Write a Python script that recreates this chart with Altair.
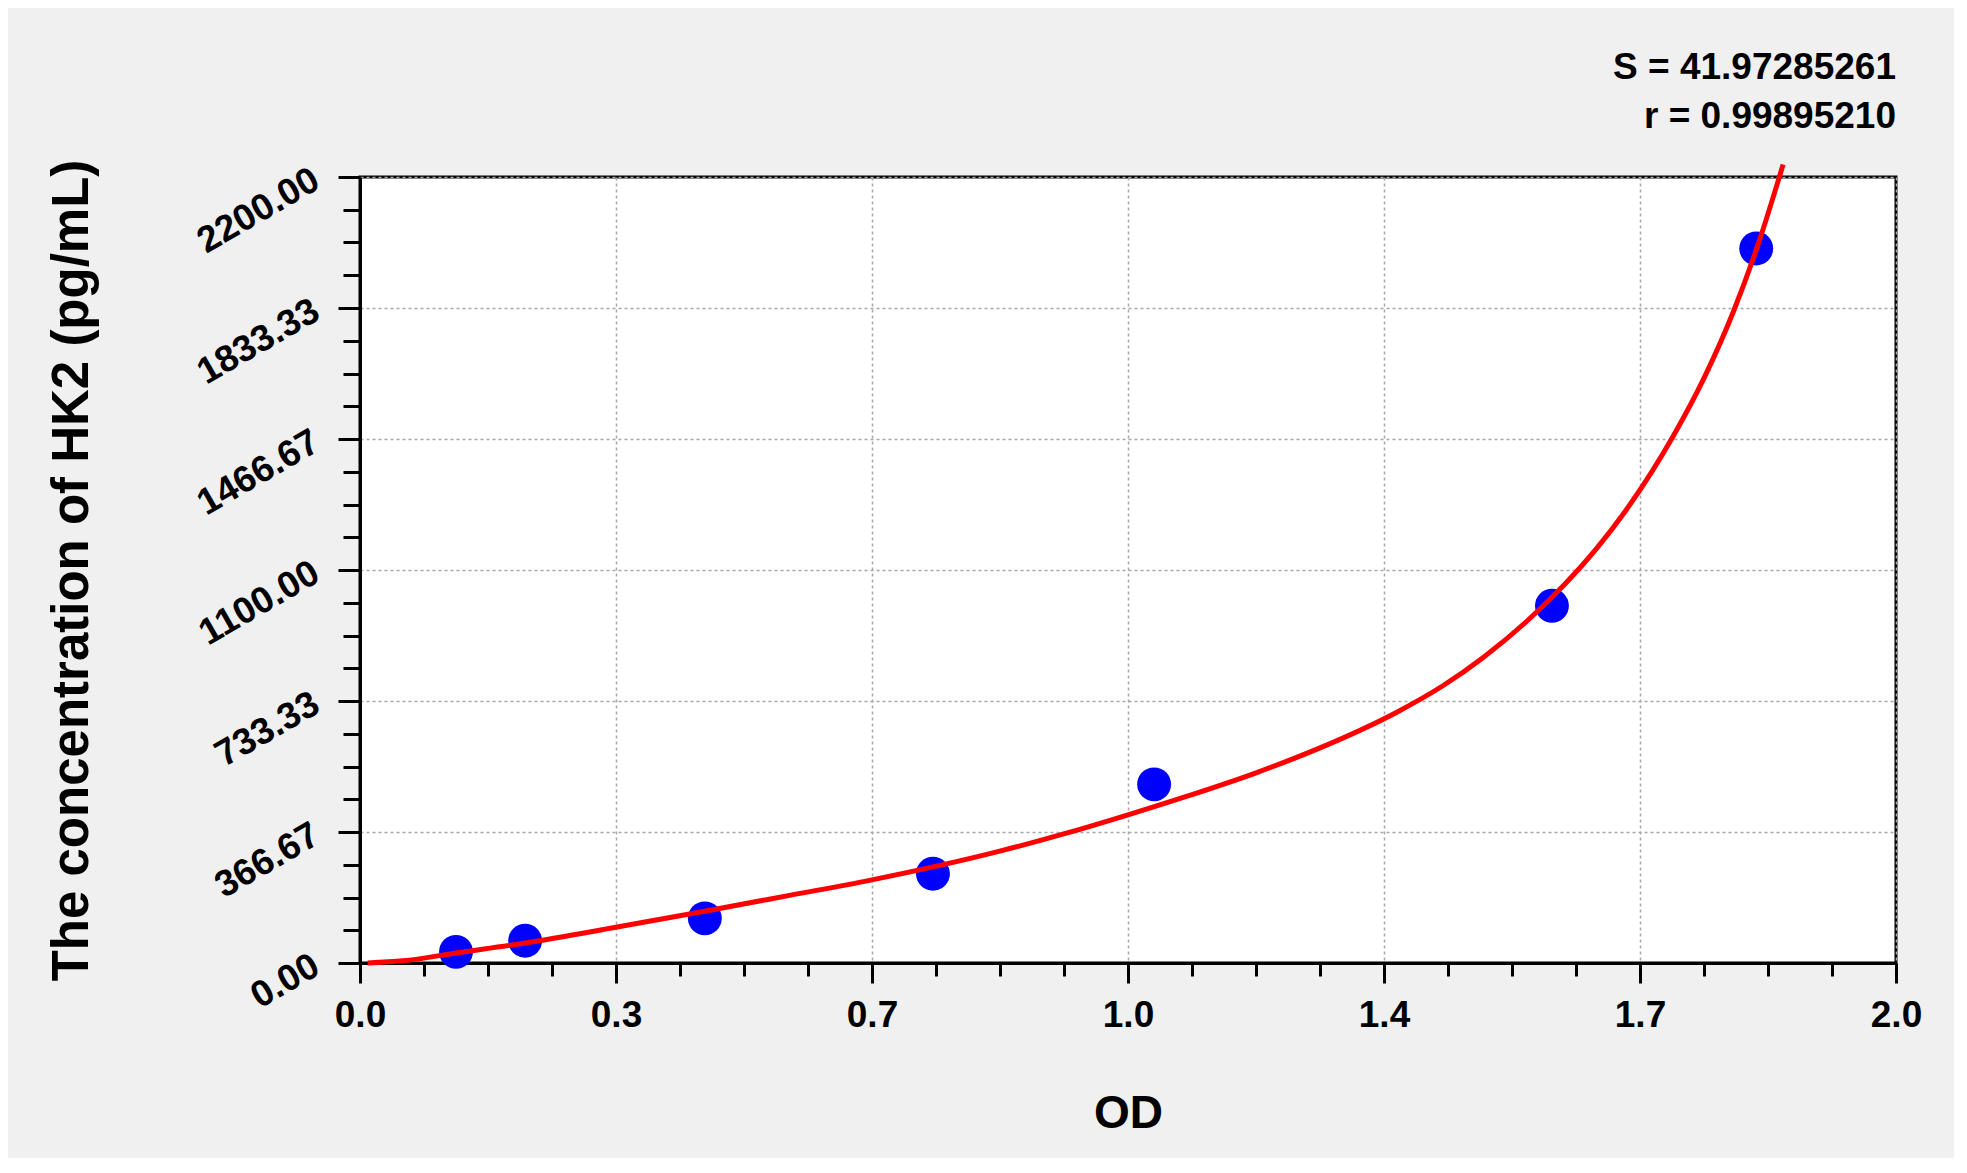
import json
import altair as alt
import pandas as pd

# Standards (measured points)
od = [0.125, 0.215, 0.449, 0.746, 1.034, 1.552, 1.818]
conc = [31.25, 62.5, 125, 250, 500, 1000, 2000]

# Fitted curve
curve_od = [0.01, 0.056, 0.125, 0.215, 0.333, 0.449, 0.561, 0.665, 0.833, 0.921,
            0.999, 1.080, 1.165, 1.250, 1.350, 1.410, 1.463, 1.520, 1.569, 1.610,
            1.648, 1.710, 1.750, 1.789, 1.821, 1.853]
curve_conc = [0, 6, 28, 56, 100, 145, 190, 232, 313, 364,
              414, 469, 531, 602, 702, 776, 856, 958, 1061, 1160,
              1266, 1475, 1637, 1827, 2015, 2235]

x_labels = ["0.0", "0.3", "0.7", "1.0", "1.4", "1.7", "2.0"]
y_labels = ["0.00", "366.67", "733.33", "1100.00", "1466.67", "1833.33", "2200.00"]
stat_s = "S = 41.97285261"
stat_r = "r = 0.99895210"

X_MAX = 2.0
Y_MAX = 2200.0
x_major = [i * X_MAX / 6 for i in range(7)]
y_major = [i * Y_MAX / 6 for i in range(7)]
x_minor = [i * X_MAX / 24 for i in range(25) if i % 4]
y_minor = [i * Y_MAX / 24 for i in range(25) if i % 4]

SANS = "Liberation Sans, Arial, sans-serif"

pts = pd.DataFrame({"od": od, "conc": conc})
crv = pd.DataFrame({"od": curve_od, "conc": curve_conc})

xscale = alt.Scale(domain=[0, X_MAX], nice=False, zero=False)
yscale = alt.Scale(domain=[0, Y_MAX], nice=False, zero=False)

points = alt.Chart(pts).mark_circle(size=1150, color="#0000ff", opacity=1).encode(
    x=alt.X("od:Q", scale=xscale,
            axis=alt.Axis(orient="bottom", values=x_minor, labels=False, grid=False,
                          domain=False, tickSize=13, tickWidth=3, tickColor="black",
                          title=None)),
    y=alt.Y("conc:Q", scale=yscale,
            axis=alt.Axis(orient="left", values=y_minor, labels=False, grid=False,
                          domain=False, tickSize=17, tickWidth=3, tickColor="black",
                          title=None)),
)

line = alt.Chart(crv).mark_line(color="#ff0000", strokeWidth=5, interpolate="monotone",
                                clip=False).encode(
    x=alt.X("od:Q", scale=xscale,
            axis=alt.Axis(orient="bottom", values=x_major,
                          labelExpr=json.dumps(x_labels) + "[round(datum.value*3)]",
                          labelFont=SANS, labelFontSize=37, labelFontWeight="bold",
                          labelColor="black", labelPadding=14, labelBaseline="top",
                          tickSize=20, tickWidth=3, tickColor="black",
                          domain=True, domainColor="black", domainWidth=3,
                          grid=True, gridColor="#a8a8a8", gridDash=[3, 3], gridWidth=1.5,
                          title="OD", titleFont=SANS, titleFontSize=46,
                          titleFontWeight="bold", titleColor="black",
                          titleX=768, titleY=150, titleBaseline="middle",
                          titleAlign="center", labelFlush=False)),
    y=alt.Y("conc:Q", scale=yscale,
            axis=alt.Axis(orient="left", values=y_major,
                          labelExpr=json.dumps(y_labels) + "[round(datum.value*6/2200)]",
                          labelFont=SANS, labelFontSize=37, labelFontWeight="bold",
                          labelColor="black", labelAngle=330, labelAlign="right",
                          labelBaseline="middle", labelPadding=22,
                          tickSize=22, tickWidth=3, tickColor="black",
                          domain=True, domainColor="black", domainWidth=3,
                          grid=True, gridColor="#a8a8a8", gridDash=[3, 3], gridWidth=1.5,
                          title="The concentration of HK2 (pg/mL)", titleFont=SANS,
                          titleFontSize=51, titleFontWeight="bold", titleColor="black",
                          titleAngle=270, titleX=-262, titleY=393,
                          titleBaseline="bottom", titleAlign="center", labelFlush=False)),
)

chart = alt.layer(points, line).resolve_axis(x="independent", y="independent").properties(
    width=1536,
    height=786,
    autosize=alt.AutoSizeParams(type="none"),
    padding={"left": 352, "top": 169, "right": 58, "bottom": 195},
    title=alt.TitleParams(text=stat_s, subtitle=stat_r, anchor="end", frame="group",
                          font=SANS, subtitleFont=SANS,
                          fontSize=37, subtitleFontSize=37,
                          fontWeight="bold", subtitleFontWeight="bold",
                          color="black", subtitleColor="black",
                          offset=18, subtitlePadding=12),
).configure(background="#f0f0f0").configure_view(
    fill="white", stroke="black", strokeWidth=3
)

chart.save("out.html", embed_options={"renderer": "svg", "actions": False})
